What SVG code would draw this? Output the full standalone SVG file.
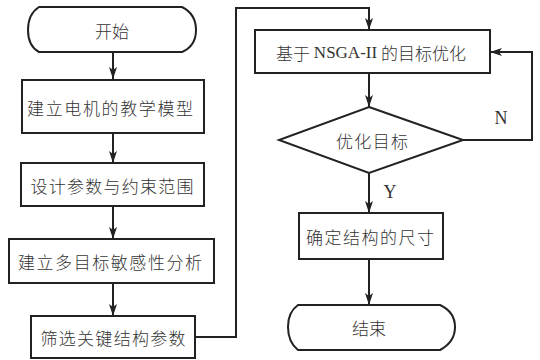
<svg xmlns="http://www.w3.org/2000/svg" width="540" height="360" viewBox="0 0 540 360">
<style>
.s{fill:#fff;stroke:#222;stroke-width:2}
.c{fill:none;stroke:#222;stroke-width:2}
.t{font-family:"Noto Sans CJK SC","Noto Sans",sans-serif;font-weight:300;font-size:17px;fill:#333;text-anchor:middle;dominant-baseline:central}
.l{font-family:"Liberation Serif",serif;font-size:18px;fill:#333;text-anchor:middle;dominant-baseline:central}
</style>
<defs>
<marker id="a" viewBox="0 0 12 8" markerWidth="12" markerHeight="8" refX="12" refY="4" orient="auto" markerUnits="userSpaceOnUse">
<path d="M0,0 L12,4 L0,8 L3,4 Z" fill="#222"/>
</marker>
</defs>
<rect width="540" height="360" fill="#fff"/>
<g id="connectors">
<path class="c" d="M113,52 V79" marker-end="url(#a)"/>
<path class="c" d="M113,133 V163" marker-end="url(#a)"/>
<path class="c" d="M113,206 V239" marker-end="url(#a)"/>
<path class="c" d="M113,283 V316" marker-end="url(#a)"/>
<path class="c" d="M195,337 H236 V8 H369 V30" marker-end="url(#a)"/>
<path class="c" d="M369,73 V107" marker-end="url(#a)"/>
<path class="c" d="M463,140 H532 V52 H490" marker-end="url(#a)"/>
<path class="c" d="M369,173 V213" marker-end="url(#a)"/>
<path class="c" d="M369,259 V305" marker-end="url(#a)"/>
<text class="l" x="501" y="118">N</text>
<text class="l" x="390" y="192">Y</text>
</g>
<g id="start">
<path class="s" d="M39,7 H182 Q196,14 196,30 Q196,46 182,52 H39 Q28,46 28,30 Q28,14 39,7 Z"/>
<text class="t" x="112" y="30">开始</text>
</g>
<g id="model">
<rect class="s" x="22" y="80" width="182" height="53"/>
<text class="t" x="110" y="107" textLength="166" lengthAdjust="spacing">建立电机的教学模型</text>
</g>
<g id="params">
<rect class="s" x="21" y="163" width="183" height="43"/>
<text class="t" x="112" y="185" textLength="163" lengthAdjust="spacing">设计参数与约束范围</text>
</g>
<g id="sensitivity">
<rect class="s" x="9" y="239" width="205" height="44"/>
<text class="t" x="110" y="261" textLength="184" lengthAdjust="spacing">建立多目标敏感性分析</text>
</g>
<g id="select">
<rect class="s" x="31" y="316" width="164" height="42"/>
<text class="t" x="113" y="337" textLength="145" lengthAdjust="spacing">筛选关键结构参数</text>
</g>
<g id="nsga">
<rect class="s" x="255" y="30" width="235" height="43"/>
<text x="371" y="52" style="font-size:17px;fill:#333;text-anchor:middle;dominant-baseline:central"><tspan style="font-family:'Noto Sans CJK SC',sans-serif;font-weight:300">基于 </tspan><tspan style="font-family:'Liberation Serif',serif">NSGA-II</tspan><tspan style="font-family:'Noto Sans CJK SC',sans-serif;font-weight:300"> 的目标优化</tspan></text>
</g>
<g id="decision">
<path class="s" d="M369,107 L463,140 L369,173 L279,140 Z"/>
<text class="t" x="372" y="140" textLength="72" lengthAdjust="spacing">优化目标</text>
</g>
<g id="size">
<rect class="s" x="299" y="213" width="144" height="46"/>
<text class="t" x="370" y="236" textLength="128" lengthAdjust="spacing">确定结构的尺寸</text>
</g>
<g id="end">
<path class="s" d="M298,305 H440 Q455,312 455,327 Q455,342 440,350 H298 Q288,342 288,327 Q288,312 298,305 Z"/>
<text class="t" x="369" y="327">结束</text>
</g>
</svg>
